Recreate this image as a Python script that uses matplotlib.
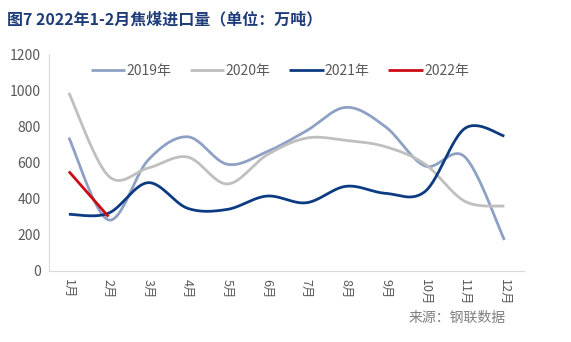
import numpy as np
import matplotlib.pyplot as plt

plt.rcParams['font.family'] = ['Noto Sans CJK SC', 'DejaVu Sans']

months = ['1月', '2月', '3月', '4月', '5月', '6月', '7月', '8月', '9月', '10月', '11月', '12月']
y2019 = [737, 282, 613, 742, 590, 659, 775, 905, 797, 580, 631, 171]
y2020 = [985, 525, 569, 630, 481, 641, 735, 722, 687, 590, 385, 358]
y2021 = [313, 319, 488, 346, 340, 414, 377, 468, 429, 440, 788, 746]
y2022 = [550, 300]

colors = {'2019年': '#8EA1C5', '2020年': '#BFBFBF', '2021年': '#0D3B82', '2022年': '#CC0A14'}


def smooth(vals, n=30):
    # Excel-like smoothed line (Catmull-Rom through the points)
    p = np.array(vals, dtype=float)
    x = np.arange(len(p), dtype=float)
    if len(p) < 3:
        return x, p
    px = np.concatenate([[x[0]], x, [x[-1]]])
    py = np.concatenate([[p[0]], p, [p[-1]]])
    xs, ys = [], []
    for i in range(1, len(px) - 2):
        t = np.linspace(0, 1, n, endpoint=False)
        b0x, b3x = px[i], px[i + 1]
        b0y, b3y = py[i], py[i + 1]
        b1x = px[i] + (px[i + 1] - px[i - 1]) / 6
        b1y = py[i] + (py[i + 1] - py[i - 1]) / 6
        b2x = px[i + 1] - (px[i + 2] - px[i]) / 6
        b2y = py[i + 1] - (py[i + 2] - py[i]) / 6
        c = [(1 - t) ** 3, 3 * (1 - t) ** 2 * t, 3 * (1 - t) * t ** 2, t ** 3]
        xs.append(c[0] * b0x + c[1] * b1x + c[2] * b2x + c[3] * b3x)
        ys.append(c[0] * b0y + c[1] * b1y + c[2] * b2y + c[3] * b3y)
    xs.append([x[-1]])
    ys.append([p[-1]])
    return np.concatenate(xs), np.concatenate(ys)


fig = plt.figure(figsize=(5.71, 3.42), dpi=100)
ax = fig.add_axes([0.086, 0.208, 0.832, 0.634])

for name, vals in [('2019年', y2019), ('2020年', y2020), ('2021年', y2021), ('2022年', y2022)]:
    sx, sy = smooth(vals)
    ax.plot(sx, sy, color=colors[name], lw=2.0, label=name, solid_capstyle='butt')

ax.set_xlim(-0.5, 11.5)
ax.set_ylim(0, 1200)
ax.set_yticks(range(0, 1201, 200))
ax.set_xticks(range(12))
ax.set_xticklabels(months, rotation=-90, fontsize=9, color='#595959')
ax.tick_params(axis='y', labelsize=10, colors='#595959', length=0, pad=6)
ax.tick_params(axis='x', length=0, pad=6)
for s in ['top', 'right']:
    ax.spines[s].set_visible(False)
ax.spines['left'].set_color('#D9D9D9')
ax.spines['bottom'].set_color('#D9D9D9')

leg = fig.legend(loc='center', bbox_to_anchor=(0.49, 0.792), ncol=4, frameon=False,
                 fontsize=10, handlelength=2.5, columnspacing=1.3, handletextpad=0.1)
for t in leg.get_texts():
    t.set_color('#595959')

fig.text(0.012, 0.944, '图7 2022年1-2月焦煤进口量（单位：万吨）', fontsize=11.5,
         fontweight='bold', color='#1F3C7A', va='center', ha='left')
fig.text(0.885, 0.07, '来源：钢联数据', fontsize=10, color='#7F7F7F', ha='right', va='center')

fig.savefig('out.png', dpi=100)
